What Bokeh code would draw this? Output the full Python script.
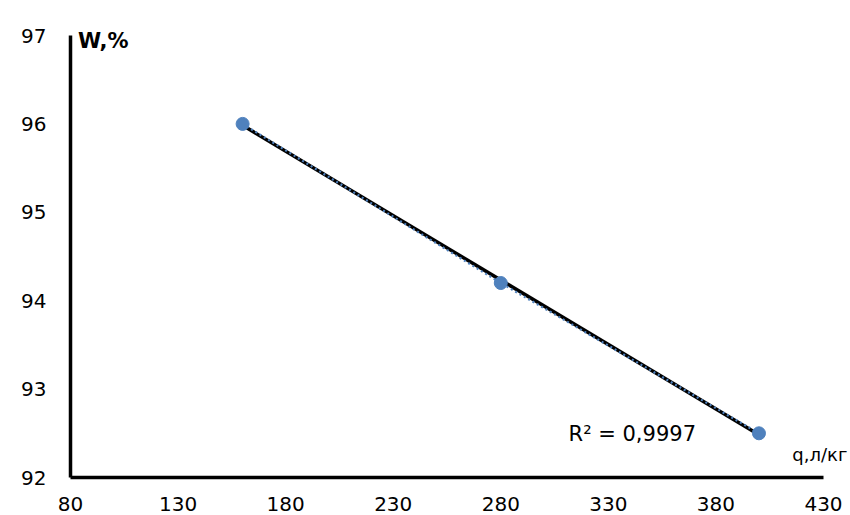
import numpy as np
from bokeh.plotting import figure
from bokeh.models import Range1d, Label, FixedTicker
from bokeh.embed import file_html
from bokeh.resources import INLINE

# data
q_values = [160, 280, 400]
w_values = [96.0, 94.2, 92.5]
x_ticks = [80, 130, 180, 230, 280, 330, 380, 430]
y_ticks = [92, 93, 94, 95, 96, 97]
r2_text = "R² = 0,9997"
x_title = "q,л/кг"
y_title = "W,%"

FONT = "DejaVu Sans"
BLUE = "#4F81BD"

# pixel scale: x 80..430 over 753 px, y 92..97 over 442 px
px_x = 753 / 350.0
px_y = 442 / 5.0
x_end = 430 + 27 / px_x
y_end = 97 + 35 / px_y

p = figure(width=850, height=515, output_backend="svg", toolbar_location=None,
           x_range=Range1d(80, x_end), y_range=Range1d(92, y_end),
           min_border_left=70, min_border_right=0, min_border_top=0, min_border_bottom=38)
p.outline_line_color = None
p.xgrid.visible = False
p.ygrid.visible = False
p.background_fill_color = "white"
p.border_fill_color = "white"

for ax in (p.xaxis[0], p.yaxis[0]):
    ax.axis_line_width = 3.5
    ax.axis_line_color = "black"
    ax.major_tick_line_color = None
    ax.minor_tick_line_color = None
    ax.major_label_text_font = FONT
    ax.major_label_text_font_size = "20px"
    ax.major_label_text_color = "black"
p.xaxis[0].ticker = FixedTicker(ticks=x_ticks)
p.yaxis[0].ticker = FixedTicker(ticks=y_ticks)
p.xaxis[0].bounds = (80, 430)
p.yaxis[0].bounds = (92, 97)
p.xaxis[0].major_label_standoff = 13
p.yaxis[0].major_label_standoff = 18

# linear trendline from data
coef = np.polyfit(q_values, w_values, 1)
tx = [min(q_values), max(q_values)]
ty = [coef[0] * t + coef[1] for t in tx]
p.line(tx, ty, line_color="black", line_width=3.5)
p.line(q_values, w_values, line_color=BLUE, line_width=2.2, line_dash="2 3")
p.scatter(q_values, w_values, size=13, fill_color=BLUE, line_color=BLUE)

p.add_layout(Label(x=83.5, y=97.07, text=y_title, text_font=FONT, text_font_style="bold",
                   text_font_size="21px", text_baseline="top", text_color="black"))
p.add_layout(Label(x=311.5, y=92.49, text=r2_text, text_font=FONT,
                   text_font_size="21px", text_baseline="middle", text_color="black"))
p.add_layout(Label(x=415.5, y=92.26, text=x_title, text_font=FONT,
                   text_font_size="18px", text_baseline="middle", text_color="black"))

open("out.html", "w").write(file_html(p, INLINE))
